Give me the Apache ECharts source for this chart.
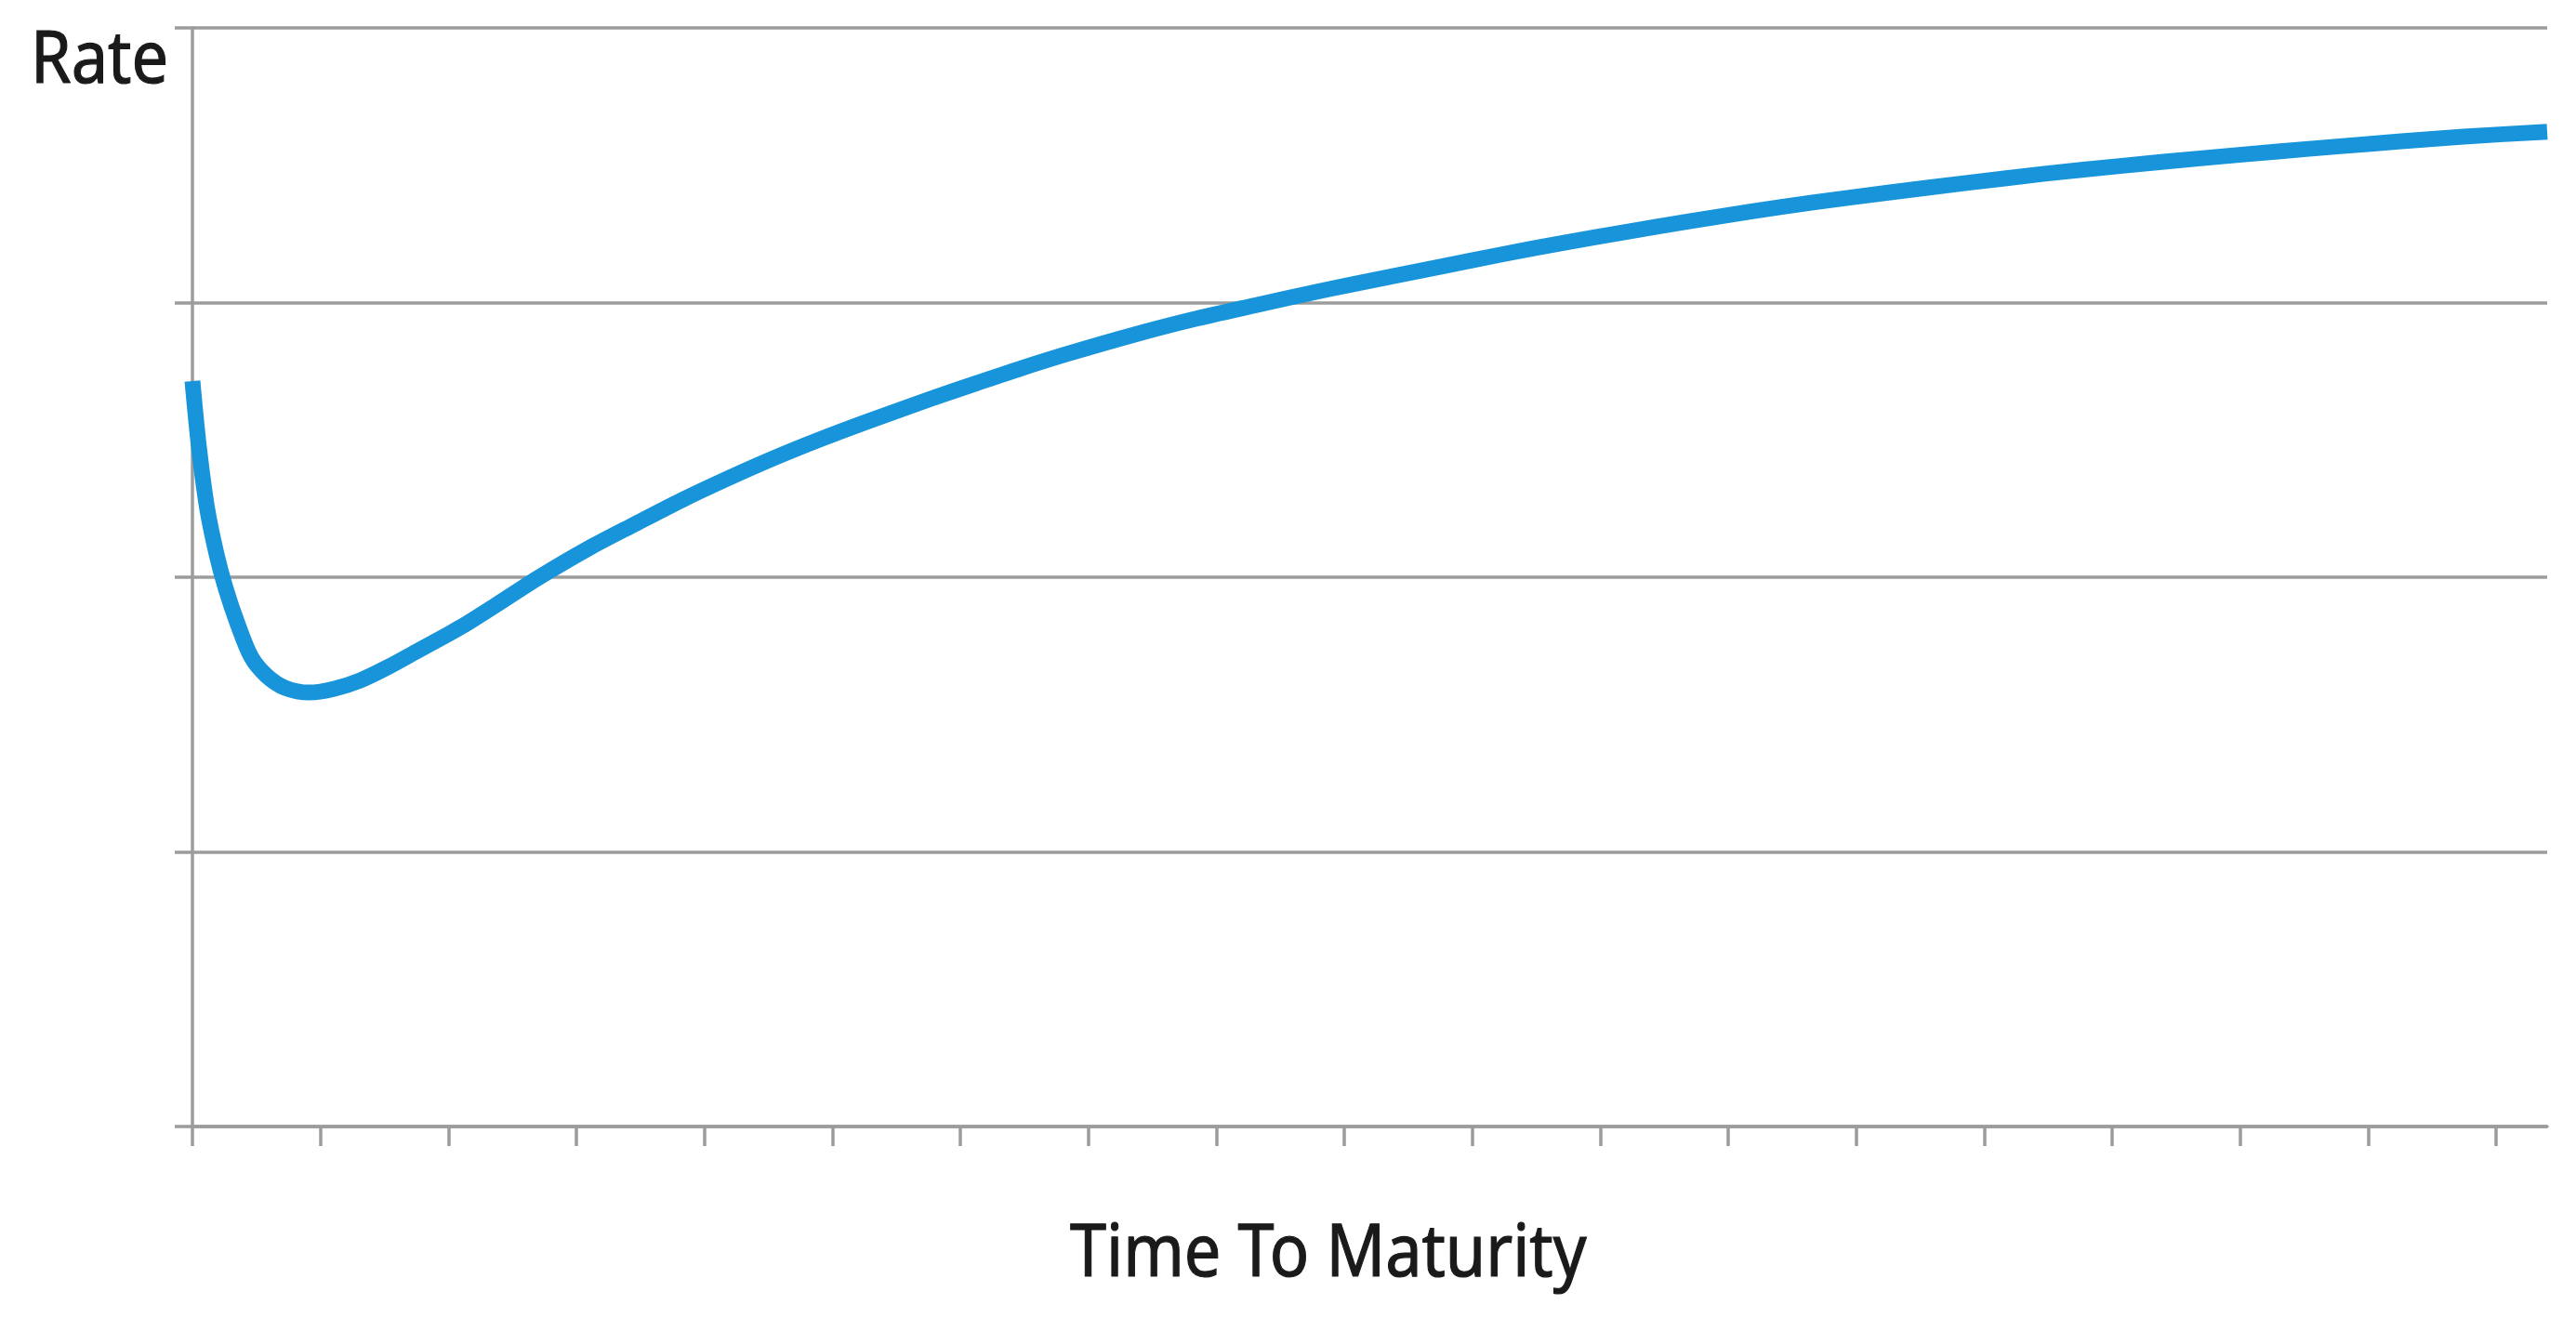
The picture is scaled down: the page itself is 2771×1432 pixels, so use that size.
<!DOCTYPE html>
<html>
<head>
<meta charset="utf-8">
<script src="https://cdn.jsdelivr.net/npm/echarts@6/dist/echarts.min.js"></script>
<style>
html,body{margin:0;padding:0;background:#fff;}
#chart{width:2771px;height:1432px;}
</style>
</head>
<body>
<div id="chart"></div>
<script>
// Time to maturity (category steps) and rate (gridline units)
const maturity = [0, 1, 2.3, 3.8, 5.2, 7, 9.2, 11.6, 14.5, 18.3, 22.2, 26.2, 30.5, 35.3, 40.1, 42.6, 47.4, 54.2, 61.9, 69.2, 76.4, 83.7, 90.9, 98.2, 105.5, 115.2, 122.5, 129.7, 137, 146.7, 156.3, 166.1, 175.8, 180.6, 187.8, 195.1, 204.8, 214.4, 224.2, 233.9, 243.5, 253.2, 265.3, 277.5, 289.5, 301.6, 313.8, 325.9, 335.6, 345.2, 354.9, 368];
const rate = [2.714, 2.477, 2.25, 2.081, 1.959, 1.834, 1.709, 1.641, 1.597, 1.58, 1.594, 1.624, 1.672, 1.733, 1.794, 1.827, 1.898, 2.0, 2.105, 2.194, 2.28, 2.36, 2.434, 2.503, 2.567, 2.648, 2.706, 2.762, 2.815, 2.88, 2.938, 2.99, 3.04, 3.063, 3.097, 3.131, 3.176, 3.218, 3.258, 3.296, 3.331, 3.364, 3.401, 3.436, 3.469, 3.498, 3.525, 3.55, 3.569, 3.587, 3.604, 3.622];
const xTicks = [0, 20, 40, 60, 80, 100, 120, 140, 160, 180, 200, 220, 240, 260, 280, 300, 320, 340, 360];
const xMax = 368;
const yTitle = 'Rate';
const xTitle = 'Time To Maturity';

const chart = echarts.init(document.getElementById('chart'), null, {renderer: 'canvas'});
const axisGray = '#9c9c9c';
const textStyle = {font: '78px "Noto Sans"', fill: '#1a1a1a', stroke: '#1a1a1a', lineWidth: 1.2, textVerticalAlign: 'top'};
const option = {
  animation: false,
  backgroundColor: '#ffffff',
  grid: {left: 207, right: 31, top: 30, bottom: 220, containLabel: false},
  xAxis: {
    type: 'value', min: 0, max: xMax,
    axisLine: {show: true, onZero: false, lineStyle: {color: axisGray, width: 3.5}},
    axisTick: {show: true, length: 21, customValues: xTicks, lineStyle: {color: axisGray, width: 3.5}},
    axisLabel: {show: false},
    splitLine: {show: false}
  },
  yAxis: {
    type: 'value', min: 0, max: 4, interval: 1,
    axisLine: {show: true, lineStyle: {color: axisGray, width: 3.5}},
    axisTick: {show: true, length: 19, lineStyle: {color: axisGray, width: 3.5}},
    axisLabel: {show: false},
    splitLine: {show: true, lineStyle: {color: axisGray, width: 3.5}}
  },
  series: [{
    type: 'line',
    data: maturity.map((m, i) => [m, rate[i]]),
    showSymbol: false,
    smooth: 0.3,
    lineStyle: {color: '#1794da', width: 17, cap: 'butt', join: 'round'},
    z: 5
  }],
  graphic: [
    {type: 'text', x: 181, y: 28, scaleX: 0.9,
     style: Object.assign({text: yTitle, textAlign: 'right'}, textStyle)},
    {type: 'text', x: 1151, y: 1312, scaleX: 0.9,
     style: Object.assign({text: xTitle, textAlign: 'left'}, textStyle)}
  ]
};
chart.setOption(option);
</script>
</body>
</html>
